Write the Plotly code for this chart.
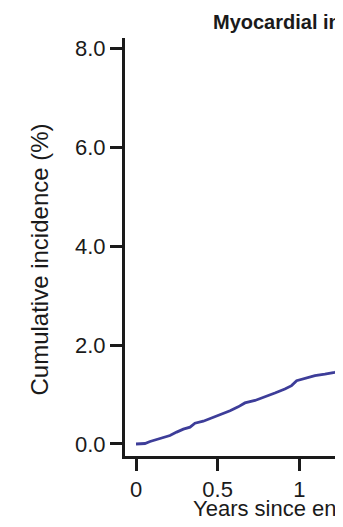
import plotly.graph_objects as go

# Data
years = [0.0, 0.055, 0.086, 0.127, 0.167, 0.208, 0.249, 0.290, 0.331, 0.361,
         0.412, 0.453, 0.494, 0.535, 0.576, 0.626, 0.667, 0.729, 0.790, 0.851,
         0.912, 0.953, 0.984, 1.035, 1.096, 1.157, 1.218, 1.268]
incidence = [0.00, 0.01, 0.05, 0.09, 0.12, 0.17, 0.24, 0.30, 0.34, 0.42,
             0.46, 0.51, 0.57, 0.61, 0.67, 0.75, 0.83, 0.88, 0.95, 1.03,
             1.11, 1.18, 1.28, 1.32, 1.38, 1.41, 1.45, 1.50]
y_ticks = [0, 2, 4, 6, 8]
y_tick_labels = ["0.0", "2.0", "4.0", "6.0", "8.0"]
x_ticks = [0, 0.5, 1, 1.5, 2, 2.5, 3]
x_tick_labels = ["0", "0.5", "1", "1.5", "2", "2.5", "3"]
title_text = "Myocardial infarction"
x_title = "Years since enrollment"
y_title = "Cumulative incidence (%)"

FONT = "Liberation Sans, Arial, sans-serif"
AX = "#1a1a1a"

fig = go.Figure()
fig.add_trace(go.Scatter(
    x=years, y=incidence, mode="lines",
    line=dict(color="#3d3d99", width=2.8), showlegend=False,
    hoverinfo="skip",
))

# The page body adds an 8 px margin, so the figure is sized/offset to compensate.
fig.update_layout(
    width=335, height=519,
    margin=dict(l=117, r=0, t=30, b=71),
    paper_bgcolor="white", plot_bgcolor="white",
    font=dict(family=FONT, size=20, color=AX),
    xaxis=dict(
        range=[-0.0674, 1.268], tickvals=x_ticks, ticktext=x_tick_labels,
        showline=True, linecolor=AX, linewidth=3, ticks="outside",
        ticklen=12, tickwidth=3, tickcolor=AX, showgrid=False, zeroline=False,
        tickfont=dict(family=FONT, size=22, color=AX),
    ),
    yaxis=dict(
        range=[-0.243, 8.208], tickvals=y_ticks, ticktext=y_tick_labels,
        showline=True, linecolor=AX, linewidth=3, ticks="outside",
        ticklen=12, tickwidth=2.5, tickcolor=AX, showgrid=False, zeroline=False,
        tickfont=dict(family=FONT, size=22, color=AX),
    ),
    annotations=[
        dict(text="<b>" + title_text + "</b>", xref="paper", yref="paper",
             x=0.395, y=1, xanchor="left", yanchor="middle", yshift=16,
             showarrow=False, font=dict(family=FONT, size=20, color=AX)),
        dict(text=x_title, xref="paper", yref="paper",
             x=0.303, y=0, xanchor="left", yanchor="middle", yshift=-52,
             showarrow=False, font=dict(family=FONT, size=22, color=AX)),
        dict(text=y_title, xref="paper", yref="paper", textangle=-90,
             x=0, y=0.47, xanchor="center", yanchor="middle", xshift=-85,
             showarrow=False, font=dict(family=FONT, size=24, color=AX)),
    ],
)

fig.write_html("out.html")
